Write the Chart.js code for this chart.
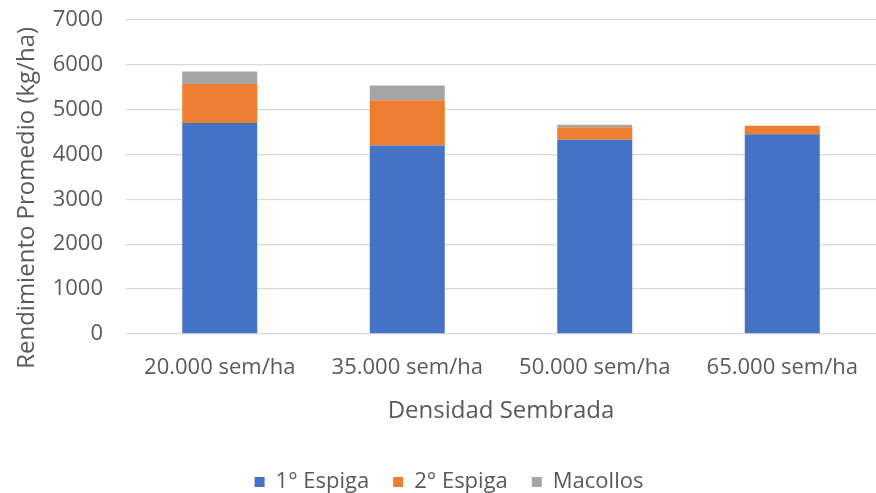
<!DOCTYPE html>
<html>
<head>
<meta charset="utf-8">
<script src="https://cdn.jsdelivr.net/npm/chart.js@4.4.0/dist/chart.umd.min.js"></script>
<style>
  html, body { margin: 0; padding: 0; background: #fff; }
  #wrap { width: 876px; height: 493px; }
</style>
</head>
<body>
<div id="wrap"><canvas id="rendChart" width="876" height="493"></canvas></div>
<script>
const categorias = ['20.000 sem/ha', '35.000 sem/ha', '50.000 sem/ha', '65.000 sem/ha'];
const espiga1 = [4700, 4200, 4330, 4450];
const espiga2 = [875, 1010, 280, 190];
const macollos = [275, 330, 55, 0];

const gris = '#595959';
const fuente = "'Open Sans', sans-serif";
const tituloY = 'Rendimiento Promedio (kg/ha)';

// titulo del eje Y, centrado como en Excel (un poco mas abajo que el area)
const tituloEjeY = {
    id: 'tituloEjeY',
    afterDraw(chart) {
        const c = chart.ctx;
        const area = chart.chartArea;
        c.save();
        c.fillStyle = gris;
        c.font = '24px ' + fuente;
        c.textAlign = 'center';
        c.textBaseline = 'middle';
        c.translate(area.left - 99, (area.top + area.bottom) / 2 + 21);
        c.rotate(-Math.PI / 2);
        c.fillText(tituloY, 0, 0);
        c.restore();
    }
};

const ctx = document.getElementById('rendChart');

new Chart(ctx, {
    type: 'bar',
    data: {
        labels: categorias,
        datasets: [{
            label: '1° Espiga',
            data: espiga1,
            backgroundColor: '#4472C4'
        }, {
            label: '2° Espiga',
            data: espiga2,
            backgroundColor: '#ED7D31'
        }, {
            label: 'Macollos',
            data: macollos,
            backgroundColor: '#A5A5A5'
        }]
    },
    plugins: [tituloEjeY],
    options: {
        responsive: false,
        animation: false,
        layout: {
            padding: { top: 20, right: -12, left: 10, bottom: -10 }
        },
        datasets: {
            bar: {
                categoryPercentage: 1,
                barPercentage: 0.4
            }
        },
        plugins: {
            legend: {
                position: 'bottom',
                labels: {
                    color: gris,
                    font: { family: fuente, size: 22 },
                    boxWidth: 10,
                    boxHeight: 10,
                    padding: 24
                }
            },
            tooltip: { enabled: false }
        },
        scales: {
            x: {
                stacked: true,
                grid: { display: false },
                border: { display: false },
                ticks: {
                    color: gris,
                    font: { family: fuente, size: 22 },
                    maxRotation: 0,
                    padding: 13
                },
                title: {
                    display: true,
                    text: 'Densidad Sembrada',
                    color: gris,
                    font: { family: fuente, size: 24 },
                    padding: { top: 3, bottom: 21 }
                }
            },
            y: {
                stacked: true,
                min: 0,
                max: 7000,
                afterFit: (scale) => {
                    scale.width = 116;
                    scale.paddingTop = 0;
                    scale.paddingBottom = 0;
                },
                grid: {
                    color: '#D9D9D9',
                    lineWidth: 1.2,
                    drawTicks: false
                },
                border: { display: false },
                ticks: {
                    stepSize: 1000,
                    color: gris,
                    font: { family: fuente, size: 22 },
                    padding: 23,
                    callback: (v) => String(v)
                }
            }
        }
    }
});
</script>
</body>
</html>
